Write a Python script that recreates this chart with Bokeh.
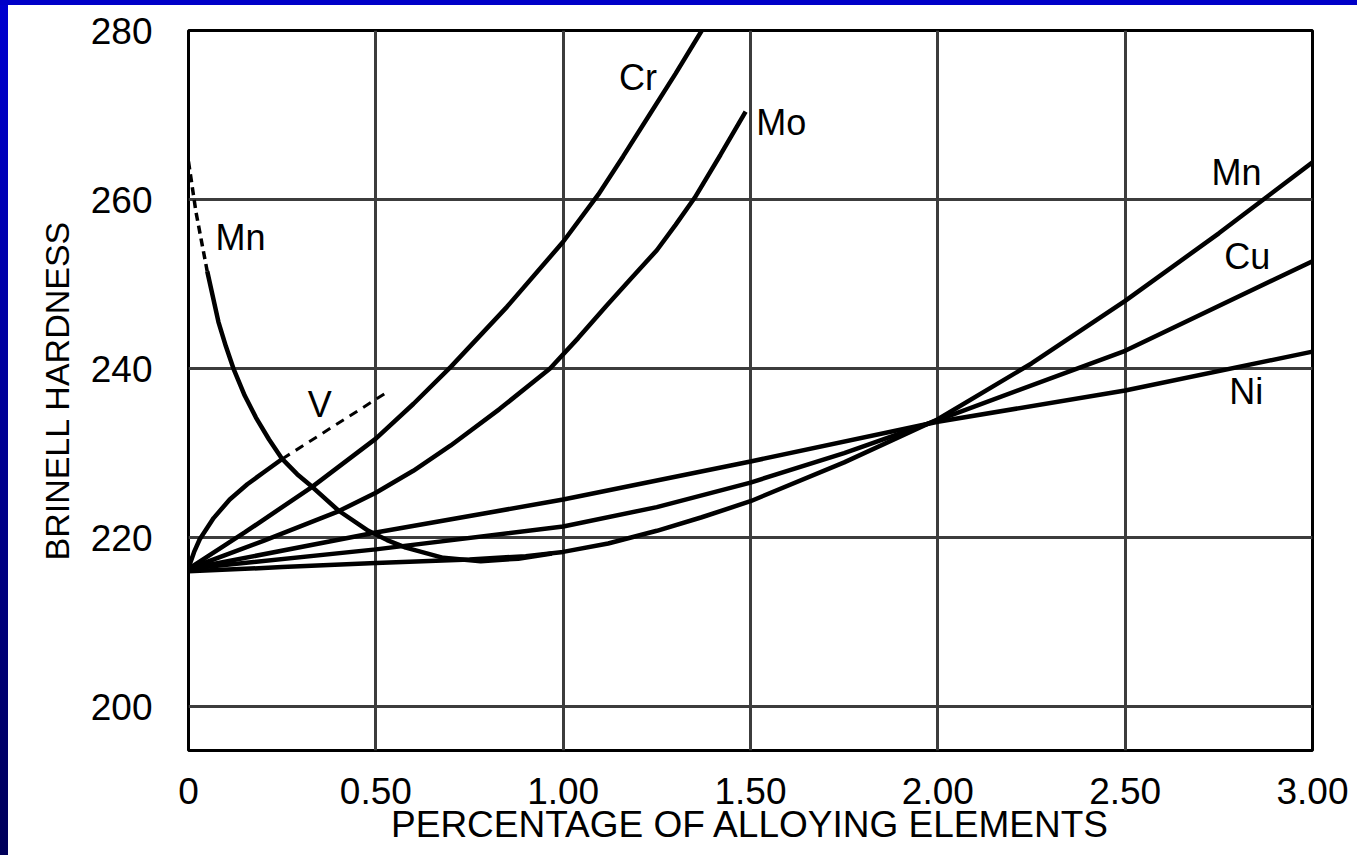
from bokeh.plotting import figure
from bokeh.models import Label, Range1d, GlobalInlineStyleSheet
from bokeh.embed import file_html
from bokeh.resources import INLINE

# ---------------- data ----------------
x_ticks = [0, 0.5, 1.0, 1.5, 2.0, 2.5, 3.0]
x_tick_labels = ["0", "0.50", "1.00", "1.50", "2.00", "2.50", "3.00"]
y_ticks = [200, 220, 240, 260, 280]

cr_x = [0.0, 0.15, 0.33, 0.5, 0.6, 0.7, 0.85, 1.0, 1.094, 1.16, 1.23, 1.30, 1.37]
cr_y = [216.3, 220.6, 226.0, 231.7, 235.8, 240.2, 247.3, 255.0, 260.6, 265.1, 270.0, 274.9, 280.0]

mo_x = [0.0, 0.2, 0.4, 0.5, 0.6, 0.7, 0.83, 0.965, 1.04, 1.115, 1.18, 1.25, 1.30, 1.351, 1.42, 1.487]
mo_y = [216.3, 219.6, 223.1, 225.3, 227.9, 230.9, 235.2, 240.0, 243.6, 247.4, 250.6, 254.0, 257.0, 260.2, 265.3, 270.4]

mn_x = [0.0, 0.25, 0.5, 0.75, 0.9, 1.0, 1.12, 1.25, 1.37, 1.5, 1.75, 2.0, 2.25, 2.5, 2.75, 3.0]
mn_y = [216.0, 216.5, 217.0, 217.4, 217.8, 218.3, 219.3, 220.8, 222.4, 224.3, 228.9, 234.0, 240.6, 248.0, 256.0, 264.4]

cu_x = [0.0, 0.5, 1.0, 1.25, 1.5, 1.75, 2.0, 2.5, 3.0]
cu_y = [216.3, 218.6, 221.3, 223.6, 226.5, 230.0, 233.9, 242.1, 252.7]

ni_x = [0.0, 0.5, 1.0, 1.5, 2.0, 2.5, 3.0]
ni_y = [216.3, 220.6, 224.5, 229.0, 233.7, 237.4, 242.0]

# Mn curve falling from the left (dashed start, then solid)
mn_fall_dash_x = [0.0, 0.02, 0.05]
mn_fall_dash_y = [264.5, 258.5, 251.5]
mn_fall_x = [0.05, 0.08, 0.10, 0.12, 0.15, 0.18, 0.215, 0.25, 0.29, 0.33, 0.40, 0.48, 0.53, 0.58, 0.68, 0.78, 0.88, 0.97]
mn_fall_y = [251.5, 245.5, 242.6, 240.0, 236.8, 234.2, 231.6, 229.3, 227.5, 226.0, 223.2, 220.8, 219.7, 218.8, 217.6, 217.2, 217.5, 218.1]

# V: solid part then dashed extension
v_x = [0.0, 0.015, 0.03, 0.067, 0.11, 0.157, 0.2, 0.25]
v_y = [216.4, 218.3, 219.8, 222.3, 224.5, 226.3, 227.7, 229.3]
v_dash_x = [0.25, 0.53]
v_dash_y = [229.3, 237.2]

curve_names = ["Cr", "Mo", "Mn", "V", "Mn", "Cu", "Ni"]
name_x = [1.20, 1.582, 0.139, 0.35, 2.797, 2.826, 2.823]
name_y = [274.4, 269.1, 255.5, 235.7, 263.2, 253.2, 237.3]

x_title = "PERCENTAGE OF ALLOYING ELEMENTS"
y_title = "BRINELL HARDNESS"

# ---------------- figure ----------------
FONT = "Liberation Sans"

p = figure(width=1349, height=850,
           x_range=Range1d(0, 3.0), y_range=Range1d(194.8, 280),
           output_backend="svg", toolbar_location=None,
           min_border_left=180, min_border_right=45,
           min_border_top=25, min_border_bottom=105)

p.background_fill_color = "white"
p.border_fill_color = "white"
p.outline_line_color = "black"
p.outline_line_width = 3

p.xaxis.ticker = x_ticks
p.xaxis.major_label_overrides = {t: s for t, s in zip(x_ticks, x_tick_labels)}
p.yaxis.ticker = y_ticks

for ax in (p.xaxis, p.yaxis):
    ax.axis_line_color = None
    ax.major_tick_line_color = None
    ax.minor_tick_line_color = None
    ax.major_tick_out = 0
    ax.major_tick_in = 0
    ax.major_label_text_font = FONT
    ax.major_label_text_font_size = "37px"
    ax.major_label_text_color = "black"
    ax.axis_label_text_font = FONT
    ax.axis_label_text_font_style = "normal"
    ax.axis_label_text_color = "black"

p.xaxis.major_label_standoff = 27
p.yaxis.major_label_standoff = 36
p.xaxis.axis_label = x_title
p.xaxis.axis_label_text_font_size = "37px"
p.xaxis.axis_label_standoff = -3
p.yaxis.axis_label = y_title
p.yaxis.axis_label_text_font_size = "34px"
p.yaxis.axis_label_standoff = 12

for g in (p.xgrid, p.ygrid):
    g.grid_line_color = "#3c3c3c"
    g.grid_line_width = 3
    g.grid_line_alpha = 1.0

LW = 4.5
p.line(cr_x, cr_y, line_color="black", line_width=LW)
p.line(mo_x, mo_y, line_color="black", line_width=LW)
p.line(mn_x, mn_y, line_color="black", line_width=LW)
p.line(cu_x, cu_y, line_color="black", line_width=LW)
p.line(ni_x, ni_y, line_color="black", line_width=LW)
p.line(mn_fall_dash_x, mn_fall_dash_y, line_color="black", line_width=3.5, line_dash="8 5")
p.line(mn_fall_x, mn_fall_y, line_color="black", line_width=LW)
p.line(v_x, v_y, line_color="black", line_width=LW)
p.line(v_dash_x, v_dash_y, line_color="black", line_width=3, line_dash="9 7")

for name, lx, ly in zip(curve_names, name_x, name_y):
    p.add_layout(Label(x=lx, y=ly, text=name, text_font=FONT,
                       text_font_size="36px", text_color="black",
                       text_align="center", text_baseline="middle"))

p.stylesheets = [GlobalInlineStyleSheet(css=(
    "html,body{overflow:hidden;}"
    "body{margin:0;padding:5px 0 0 8px;box-sizing:border-box;background:"
    "linear-gradient(#0000c8 5px, transparent 5px),"
    "linear-gradient(to right, transparent 8px, #ffffff 8px),"
    "linear-gradient(#0000d0, #00005a);}"
))]

open("out.html", "w").write(file_html(p, INLINE))
